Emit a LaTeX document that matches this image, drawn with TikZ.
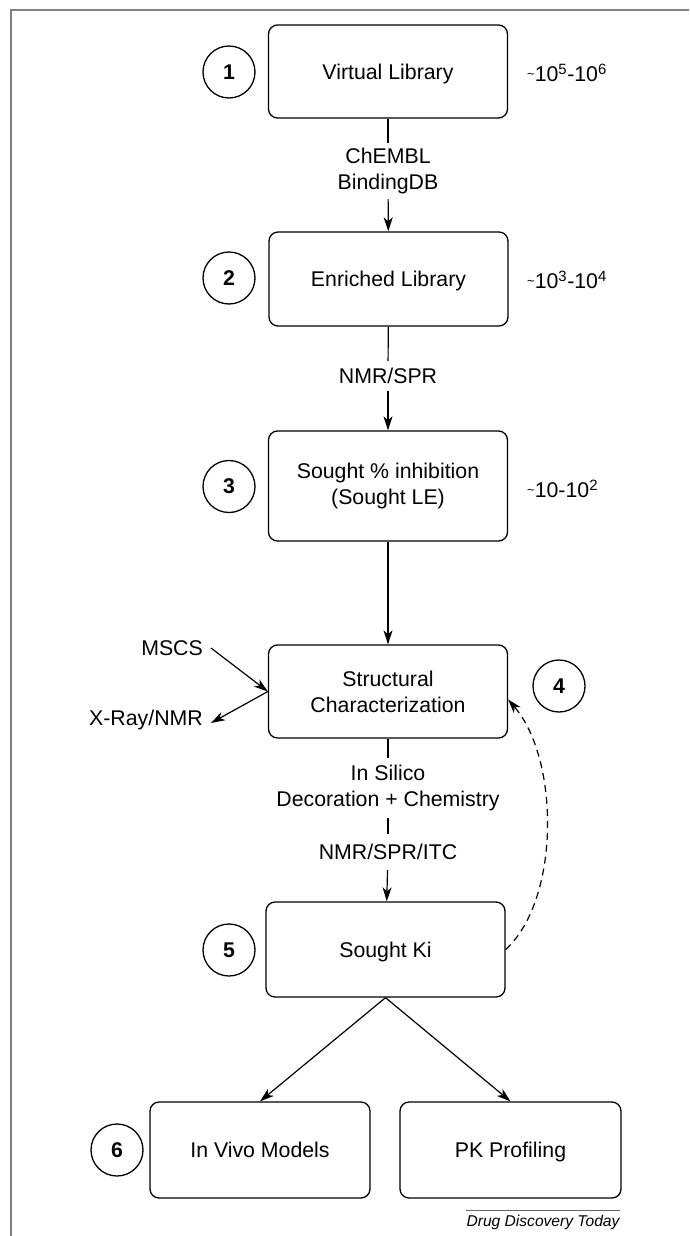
\documentclass[tikz,border=0pt]{standalone}
\usepackage{fontspec}
\setmainfont{Liberation Sans}
\usetikzlibrary{arrows.meta}
\newcommand{\tld}{{\fontsize{13}{13}\selectfont\raisebox{3pt}{\textasciitilde}}}
\begin{document}
\begin{tikzpicture}[x=1pt,y=-1pt,
  every node/.style={font=\fontsize{21.3}{26}\selectfont, inner sep=0pt},
  box/.style={draw, rounded corners=9pt, line width=1.3pt, minimum width=239pt, minimum height=93pt, align=center},
  oneline/.style={text height=15.3pt, text depth=0pt},
  num/.style={draw, circle, line width=1.3pt, minimum size=52pt, font=\fontsize{21.3}{26}\selectfont\bfseries},
  lab/.style={align=center},
  side/.style={inner xsep=8pt},
  arr/.style={-{Stealth[length=14pt,width=9pt,inset=4pt]}, line width=1.2pt},
  ln/.style={line width=1.2pt},
  frame/.style={draw=black!50, line width=1.4pt}]
\useasboundingbox (0,0) rectangle (689,1236);
\draw[frame] (11,1236) -- (11,10) -- (689,10);

% main boxes
\node[box, oneline] (b1) at (388,71.5) {Virtual Library};
\node[box, oneline, minimum height=94pt] (b2) at (388.5,279) {Enriched Library};
\node[box, minimum height=110pt] (b3) at (388,486) {Sought \% inhibition\\(Sought LE)};
\node[box] (b4) at (388,691.5) {Structural\\Characterization};
\node[box, oneline, minimum height=95pt] (b5) at (385.5,949.5) {Sought Ki};
\node[box, oneline, minimum width=220pt, minimum height=96pt] (b6) at (260,1150) {In Vivo Models};
\node[box, oneline, minimum width=221pt, minimum height=96pt] (b7) at (510.5,1150) {PK Profiling};

% numbered circles
\node[num] (c1) at (229,72) {1};
\node[num] (c2) at (229,278) {2};
\node[num] (c3) at (229,486.5) {3};
\node[num] (c4) at (559,686) {4};
\node[num] (c5) at (229,950) {5};
\node[num] (c6) at (117,1150) {6};

% size labels
\node[anchor=west] (s1) at (527,73) {\tld10\textsuperscript{5}-10\textsuperscript{6}};
\node[anchor=west] (s2) at (527,280) {\tld10\textsuperscript{3}-10\textsuperscript{4}};
\node[anchor=west] (s3) at (527,489) {\tld10-10\textsuperscript{2}};

% connector labels
\node[lab, inner ysep=5pt] (l12) at (388,171) {ChEMBL\\BindingDB};
\node[lab, inner ysep=7pt] (l23) at (388,376) {NMR/SPR};
\node[lab, inner ysep=7pt] (l45a) at (388,788) {In Silico\\Decoration + Chemistry};
\node[lab, inner ysep=10pt] (l45b) at (388,852) {NMR/SPR/ITC};

% side labels
\node[side, anchor=east] (mscs) at (211,648) {MSCS};
\node[side, anchor=east] (xray) at (211,720) {X-Ray/NMR};

% connectors
\draw[ln] (b1) -- (l12);
\draw[arr] (l12) -- (b2);
\draw[ln] (b2) -- (l23);
\draw[arr] (l23) -- (b3);
\draw[arr] (b3) -- (b4);
\draw[ln] (b4) -- (l45a);
\draw[ln] (l45a) -- (l45b);
\draw[arr] (l45b) -- (b5);
\draw[arr] (mscs.east) -- (b4.west);
\draw[arr] (b4.west) -- ([yshift=-3pt]xray.east);
\draw[arr] (b5.south) -- (b6.north);
\draw[arr] (b5.south) -- (b7.north);
\draw[arr, dashed, dash pattern=on 7pt off 5pt] (b5.east) .. controls (560,900) and (560,760) .. ([yshift=-8pt]b4.east);

% source
\node[font=\fontsize{15.6}{18}\selectfont\itshape] (ddt) at (543,1222) {Drug Discovery Today};
\draw[draw=black!60, line width=0.9pt] ([yshift=4.5pt]ddt.north west) -- ([yshift=4.5pt]ddt.north east);
\end{tikzpicture}
\end{document}
